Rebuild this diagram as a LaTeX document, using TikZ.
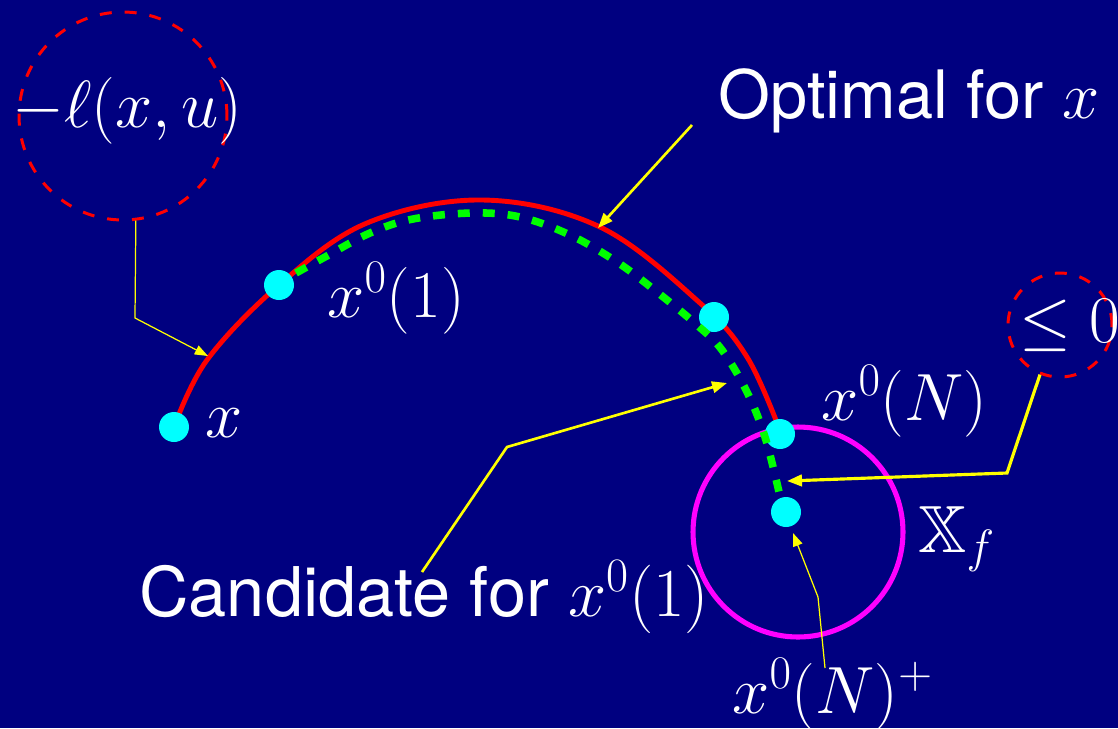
\RequirePackage{fix-cm}
\documentclass[tikz,border=0pt]{standalone}
\usepackage{amssymb}
\usepackage[no-math]{fontspec}
\newfontfamily\hv{TeX Gyre Heros}
\usetikzlibrary{arrows.meta}
\definecolor{bgnavy}{RGB}{0,0,128}
\definecolor{dotcyan}{RGB}{0,255,255}
\definecolor{ringmag}{RGB}{255,0,255}
\definecolor{ptryel}{RGB}{255,255,0}
\definecolor{candgreen}{RGB}{0,255,0}
\definecolor{optred}{RGB}{255,0,0}
\begin{document}
\begin{tikzpicture}[x=0.02cm,y=-0.02cm,
  lbl/.style={text=white, inner sep=0pt, anchor=base west, font=\fontsize{38}{45}\selectfont},
  slbl/.style={text=white, inner sep=0pt, anchor=base west, font=\fontsize{39}{46}\selectfont},
  dotnode/.style={circle, fill=dotcyan, minimum size=0.6cm, inner sep=0pt},
  ring/.style={circle, draw=optred, dash pattern=on 6.8pt off 7.4pt, line width=1.7pt, inner sep=0pt},
  ptr/.style={draw=ptryel, -{Triangle[length=8.5pt,width=6.5pt]}},
  thinptr/.style={draw=ptryel, line width=0.7pt, -{Triangle[length=7.5pt,width=5.5pt]}},
]
\fill[bgnavy] (0,0) rectangle (1118,728);
\useasboundingbox (0,0) rectangle (1118,728);

% rings
\node[ring, minimum size=4.16cm] (lc) at (123,116) {};
\node[ring, minimum size=2.08cm] (sc) at (1060,325) {};
\node[circle, draw=ringmag, line width=2.9pt, minimum size=4.2cm, inner sep=0pt] (xf) at (798,532) {};

% optimal trajectory (red)
\draw[optred, line width=2.8pt] plot[smooth, tension=0.6] coordinates {(174,427) (207,360) (279,285) (367,223) (483,200) (600,227) (700,303) (747,357) (779,428)};

% dots
\node[dotnode] (d0) at (174,427) {};
\node[dotnode] (d1) at (279,285) {};
\node[dotnode] (d2) at (714,317) {};
\node[dotnode] (dN) at (780,434) {};
\node[dotnode] (dP) at (786,512) {};

% candidate trajectory (green dashed)
\draw[candgreen, line width=4.3pt, dash pattern=on 6.8pt off 7.4pt] plot[smooth, tension=0.6] coordinates {(296,273) (325,257) (370,233) (413,219) (472,213) (520,217) (570,235) (617,262) (657,292) (697,325) (722,350) (747,392) (765,437) (779,492)};

% labels
\node[lbl] (tl) at (12,127) {$-\ell(x,u)$};
\node[lbl] (topt) at (718,118) {\hv Optimal for $x$};
\node[lbl] (tx) at (205,437) {$x$};
\node[lbl] (tx1) at (327,317) {$x^0(1)$};
\node[lbl] (txN) at (821,420) {$x^0(N)$};
\node[lbl] (tXf) at (918,552) {$\mathbb{X}_f$};
\node[lbl] (tle) at (1019,342) {$\leq 0$};
\node[slbl] (tcand) at (139,616) {\hv Candidate for $x^0(1)$};
\node[lbl] (txP) at (732,713) {$x^0(N)^+$};

% pointers
\coordinate (a1k) at (135,318);
\coordinate (a1t) at (208,356);
\draw[thinptr] (lc.-83) -- (a1k) -- (a1t);

\coordinate (a2s) at (692,125);
\coordinate (a2t) at (598,228);
\draw[ptr, line width=1.5pt] (a2s) -- (a2t);

\coordinate (a3s) at (422,572);
\coordinate (a3k) at (507,447);
\coordinate (a3t) at (727,383);
\draw[ptr, line width=1.5pt] (a3s) -- (a3k) -- (a3t);

\coordinate (a4k) at (1007,473);
\coordinate (a4t) at (787,481);
\draw[ptr, line width=1.8pt] (sc.-112) -- (a4k) -- (a4t);

\coordinate (a5s) at (825,668);
\coordinate (a5k) at (818,597);
\coordinate (a5t) at (793,533);
\draw[thinptr] (a5s) -- (a5k) -- (a5t);
\end{tikzpicture}
\end{document}
